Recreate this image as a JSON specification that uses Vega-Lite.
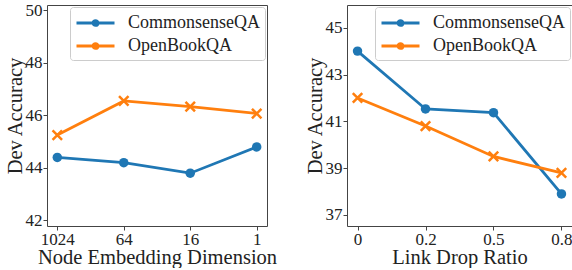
{
  "$schema": "https://vega.github.io/schema/vega-lite/v6.json",
  "padding": {"left": 4, "top": 0, "right": 0, "bottom": 0},
  "spacing": 80,
  "bounds": "flush",
  "datasets": {
    "left": [
      {"dataset": "CommonsenseQA", "dim": "1024", "acc": 44.4},
      {"dataset": "CommonsenseQA", "dim": "64", "acc": 44.2},
      {"dataset": "CommonsenseQA", "dim": "16", "acc": 43.8},
      {"dataset": "CommonsenseQA", "dim": "1", "acc": 44.8},
      {"dataset": "OpenBookQA", "dim": "1024", "acc": 45.25},
      {"dataset": "OpenBookQA", "dim": "64", "acc": 46.55},
      {"dataset": "OpenBookQA", "dim": "16", "acc": 46.33},
      {"dataset": "OpenBookQA", "dim": "1", "acc": 46.07}
    ],
    "right": [
      {"dataset": "CommonsenseQA", "ratio": "0", "acc": 44.0},
      {"dataset": "CommonsenseQA", "ratio": "0.2", "acc": 41.53},
      {"dataset": "CommonsenseQA", "ratio": "0.5", "acc": 41.37},
      {"dataset": "CommonsenseQA", "ratio": "0.8", "acc": 37.9},
      {"dataset": "OpenBookQA", "ratio": "0", "acc": 42.0},
      {"dataset": "OpenBookQA", "ratio": "0.2", "acc": 40.8},
      {"dataset": "OpenBookQA", "ratio": "0.5", "acc": 39.5},
      {"dataset": "OpenBookQA", "ratio": "0.8", "acc": 38.8}
    ]
  },
  "config": {
    "font": "Liberation Serif",
    "view": {"stroke": "#444", "strokeWidth": 1},
    "axis": {
      "labelFont": "Liberation Serif", "labelFontSize": 17, "labelColor": "#222",
      "titleFont": "Liberation Serif", "titleFontSize": 20.5, "titleFontWeight": "normal", "titleColor": "#222",
      "domain": false, "grid": false, "tickColor": "#444", "tickSize": 4, "labelPadding": 1, "titlePadding": 0
    },
    "axisX": {"labelAngle": 0},
    "legend": {
      "orient": "top-right", "offset": 2, "padding": 5,
      "strokeColor": "#ccc", "fillColor": "rgba(255,255,255,0.8)", "cornerRadius": 3,
      "labelFont": "Liberation Serif", "labelFontSize": 18, "labelColor": "#222",
      "rowPadding": 3
    }
  },
  "resolve": {"scale": {"x": "independent", "y": "independent"}, "legend": {"color": "independent"}},
  "hconcat": [
    {
      "width": 220, "height": 221,
      "data": {"name": "left"},
      "encoding": {
        "x": {"field": "dim", "type": "nominal", "sort": ["1024", "64", "16", "1"], "scale": {"type": "point", "padding": 0.155}, "title": "Node Embedding Dimension"},
        "y": {"field": "acc", "type": "quantitative", "scale": {"domain": [41.79, 50.2], "nice": false, "zero": false}, "axis": {"values": [42, 44, 46, 48, 50]}, "title": "Dev Accuracy"}
      },
      "layer": [
        {
          "mark": {"type": "line", "strokeWidth": 2.8},
          "encoding": {
            "color": {"field": "dataset", "type": "nominal", "scale": {"domain": ["CommonsenseQA", "OpenBookQA"], "range": ["#1f77b4", "#ff7f0e"]},
              "legend": {"title": null, "symbolType": "M-1,0L3,0M0.74,0A0.26,0.26 0 1,0 1.26,0A0.26,0.26 0 1,0 0.74,0Z", "symbolSize": 361, "symbolStrokeWidth": 2.8, "labelOffset": 31,
                "encode": {"symbols": {"update": {"fill": {"signal": "datum.value === 'CommonsenseQA' ? '#1f77b4' : '#ff7f0e'"}, "fillOpacity": {"value": 1}}}}}}
          }
        },
        {
          "transform": [{"filter": "datum.dataset === 'CommonsenseQA'"}],
          "mark": {"type": "point", "filled": true, "color": "#1f77b4", "size": 90, "opacity": 1}
        },
        {
          "transform": [{"filter": "datum.dataset === 'OpenBookQA'"}],
          "mark": {"type": "point", "filled": false, "shape": "M-1,-1L1,1M-1,1L1,-1", "color": "#ff7f0e", "size": 90, "strokeWidth": 2.5, "opacity": 1}
        }
      ]
    },
    {
      "width": 225, "height": 221,
      "data": {"name": "right"},
      "encoding": {
        "x": {"field": "ratio", "type": "nominal", "sort": ["0", "0.2", "0.5", "0.8"], "scale": {"type": "point", "padding": 0.155}, "title": "Link Drop Ratio"},
        "y": {"field": "acc", "type": "quantitative", "scale": {"domain": [36.53, 45.97], "nice": false, "zero": false}, "axis": {"values": [37, 39, 41, 43, 45]}, "title": "Dev Accuracy"}
      },
      "layer": [
        {
          "mark": {"type": "line", "strokeWidth": 2.8},
          "encoding": {
            "color": {"field": "dataset", "type": "nominal", "scale": {"domain": ["CommonsenseQA", "OpenBookQA"], "range": ["#1f77b4", "#ff7f0e"]},
              "legend": {"title": null, "symbolType": "M-1,0L3,0M0.74,0A0.26,0.26 0 1,0 1.26,0A0.26,0.26 0 1,0 0.74,0Z", "symbolSize": 361, "symbolStrokeWidth": 2.8, "labelOffset": 31,
                "encode": {"symbols": {"update": {"fill": {"signal": "datum.value === 'CommonsenseQA' ? '#1f77b4' : '#ff7f0e'"}, "fillOpacity": {"value": 1}}}}}}
          }
        },
        {
          "transform": [{"filter": "datum.dataset === 'CommonsenseQA'"}],
          "mark": {"type": "point", "filled": true, "color": "#1f77b4", "size": 90, "opacity": 1}
        },
        {
          "transform": [{"filter": "datum.dataset === 'OpenBookQA'"}],
          "mark": {"type": "point", "filled": false, "shape": "M-1,-1L1,1M-1,1L1,-1", "color": "#ff7f0e", "size": 90, "strokeWidth": 2.5, "opacity": 1}
        }
      ]
    }
  ]
}
